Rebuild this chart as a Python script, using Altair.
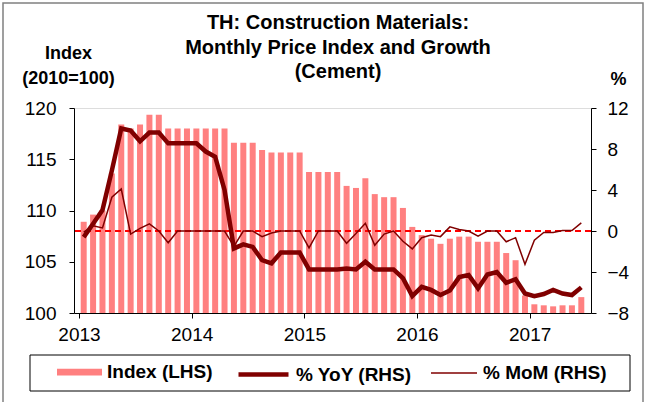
import altair as alt
import pandas as pd

FONT = "Liberation Sans"

# 54 monthly observations, Jan 2013 .. Jun 2017
months = [f"{y}-{m:02d}" for y in range(2013, 2018) for m in range(1, 13)][:54]

index_vals = [
    108.9, 109.6, 110.0, 113.6, 118.4, 118.0, 118.4, 119.35, 119.35, 118.0, 118.0, 118.0,
    118.0, 118.0, 118.0, 118.0, 116.6, 116.6, 116.6, 115.9, 115.65, 115.65, 115.65, 115.65,
    113.75, 113.75, 113.75, 113.75, 112.4, 112.2, 113.15, 111.6, 111.3, 111.3, 110.25, 108.4,
    107.6, 107.25, 106.75, 107.25, 107.45, 107.45, 106.95, 106.95, 106.95, 105.85, 105.15, 101.7,
    100.85, 100.75, 100.65, 100.75, 100.75, 101.55,
]
yoy_vals = [
    -0.6, 0.7, 2.05, 5.9, 10.0, 9.8, 8.75, 9.6, 9.6, 8.55, 8.55, 8.55,
    8.55, 7.75, 7.25, 4.0, -1.7, -1.3, -1.55, -2.85, -3.15, -2.1, -2.1, -2.1,
    -3.75, -3.75, -3.75, -3.75, -3.65, -3.75, -3.0, -3.75, -3.75, -3.75, -4.6, -6.35,
    -5.45, -5.75, -6.25, -5.8, -4.5, -4.3, -5.6, -4.25, -4.0, -5.05, -4.7, -6.1,
    -6.35, -6.15, -5.75, -6.1, -6.25, -5.5,
]
mom_vals = [
    -0.1, 0.5, 0.3, 3.3, 4.1, -0.3, 0.25, 0.7, 0.0, -1.15, 0.0, 0.0,
    0.0, 0.0, 0.0, 0.0, -1.5, 0.0, 0.0, -0.55, -0.2, 0.0, 0.0, 0.0,
    -1.65, 0.0, 0.0, 0.0, -1.2, -0.25, 0.75, -1.4, -0.3, 0.0, -1.0, -1.75,
    -0.65, -0.4, -0.55, 0.4, 0.15, 0.0, -0.5, 0.0, 0.0, -1.05, -0.65, -3.25,
    -0.9, -0.15, -0.15, 0.05, 0.05, 0.8,
]
year_labels = ["2013", "2014", "2015", "2016", "2017"]
left_ticks = [100, 105, 110, 115, 120]
right_ticks = [-8, -4, 0, 4, 8, 12]
series_names = ["Index (LHS)", "% YoY (RHS)", "% MoM (RHS)"]
title_lines = ["TH: Construction Materials:", "Monthly Price Index and Growth", "(Cement)"]

df = pd.DataFrame({
    "month": months,
    "t": [i + 0.5 for i in range(len(months))],
    "index": index_vals,
    "yoy": yoy_vals,
    "mom": mom_vals,
})

label_expr = "[" + ",".join(f"'{y}'" for y in year_labels) + "][round(datum.value/12)]"

x_enc = alt.X(
    "t:Q",
    scale=alt.Scale(domain=[0, len(months)], nice=False, zero=False),
    axis=alt.Axis(
        values=[12 * i for i in range(len(year_labels))], labelExpr=label_expr,
        title=None, grid=False, tickSize=5, labelPadding=7, labelFontSize=19,
        labelFont=FONT, labelColor="black", domainColor="black", tickColor="black",
        labelFlush=False,
    ),
)

left_axis = alt.Axis(
    values=left_ticks, title=["Index", "(2010=100)"], titleAngle=0, titleAlign="center",
    titleBaseline="alphabetic", titleX=-6, titleY=-50, titleFontSize=18, titleFont=FONT,
    titleFontWeight="bold", titleLineHeight=25, titleColor="black",
    labelFontSize=19, labelFont=FONT, labelColor="black", labelPadding=13, tickSize=5,
    domainColor="black", tickColor="black", grid=False,
)
right_axis = alt.Axis(
    orient="right", values=right_ticks, title="%", titleAngle=0, titleAlign="center",
    titleBaseline="alphabetic", titleX=27, titleY=-24, titleFontSize=18, titleFont=FONT,
    titleFontWeight="bold", titleColor="black",
    labelFontSize=19, labelFont=FONT, labelColor="black", labelPadding=11, tickSize=5,
    domainColor="black", tickColor="black", grid=False,
)
right_scale = alt.Scale(domain=[-8, 12], nice=False, zero=False)

def legend(x, y, **kw):
    return alt.Legend(
        title=None, orient="none", legendX=x, legendY=y, padding=0,
        labelFontSize=19, labelFont=FONT, labelFontWeight="bold", labelColor="black",
        labelOffset=5, **kw,
    )

bars = alt.Chart(df).transform_calculate(s=f"'{series_names[0]}'").mark_bar(size=6).encode(
    x=x_enc,
    y=alt.Y("index:Q", scale=alt.Scale(domain=[100, 120], nice=False, zero=False), axis=left_axis),
    y2=alt.datum(100),
    color=alt.Color(
        "s:N", scale=alt.Scale(domain=[series_names[0]], range=["#FF8080"]),
        legend=legend(-17, 264 - 22.5, symbolType="M-1,-0.15H1V0.15H-1Z", symbolSize=2025,
                      symbolStrokeWidth=0),
    ),
)

zero_rule = alt.Chart(pd.DataFrame({"z": [0]})).mark_rule(
    color="#FF0000", strokeDash=[6, 4], strokeWidth=2
).encode(y=alt.Y("z:Q", scale=right_scale, axis=right_axis))

mom_line = alt.Chart(df).transform_calculate(s=f"'{series_names[2]}'").mark_line(strokeWidth=1.5).encode(
    x=x_enc,
    y=alt.Y("mom:Q", scale=right_scale, axis=right_axis),
    color=alt.Color(
        "s:N", scale=alt.Scale(domain=[series_names[2]], range=["#800000"]),
        legend=legend(356, 264 - 23, symbolType="stroke", symbolSize=2116, symbolStrokeWidth=1.5),
    ),
)

yoy_line = alt.Chart(df).transform_calculate(s=f"'{series_names[1]}'").mark_line(strokeWidth=4.5).encode(
    x=x_enc,
    y=alt.Y("yoy:Q", scale=right_scale, axis=right_axis),
    color=alt.Color(
        "s:N", scale=alt.Scale(domain=[series_names[1]], range=["#800000"]),
        legend=legend(162, 264 - 25, symbolType="stroke", symbolSize=2500, symbolStrokeWidth=4.5),
    ),
)

deco = pd.DataFrame({"a": [0]})
legend_box = alt.Chart(deco).mark_rect(filled=False, stroke="black", strokeWidth=1).encode(
    x=alt.value(-44), x2=alt.value(556), y=alt.value(247), y2=alt.value(283)
)
frame = alt.Chart(deco).mark_rect(filled=False, stroke="#808080", strokeWidth=1.5).encode(
    x=alt.value(-71), x2=alt.value(569), y=alt.value(-105), y2=alt.value(320)
)

title_df = pd.DataFrame({"line": title_lines, "dy": [-79, -54, -30]})
title_marks = alt.Chart(title_df).mark_text(
    font=FONT, fontSize=20, fontWeight="bold", color="black", align="center", baseline="alphabetic"
).encode(
    text="line:N",
    x=alt.value(264),
    y=alt.Y("dy:Q", scale=None),
)

right = alt.layer(zero_rule, mom_line, yoy_line, legend_box, frame, title_marks).resolve_scale(color="independent")

chart = alt.layer(bars, right).resolve_scale(y="independent", color="independent").properties(
    width=517, height=205,
    padding={"left": 74, "top": 108, "right": 55, "bottom": 89},
    autosize=alt.AutoSizeParams(type="none"),
).configure_view(stroke=None).configure(background="white")

chart.save("out.html", embed_options={"renderer": "svg", "actions": False})
